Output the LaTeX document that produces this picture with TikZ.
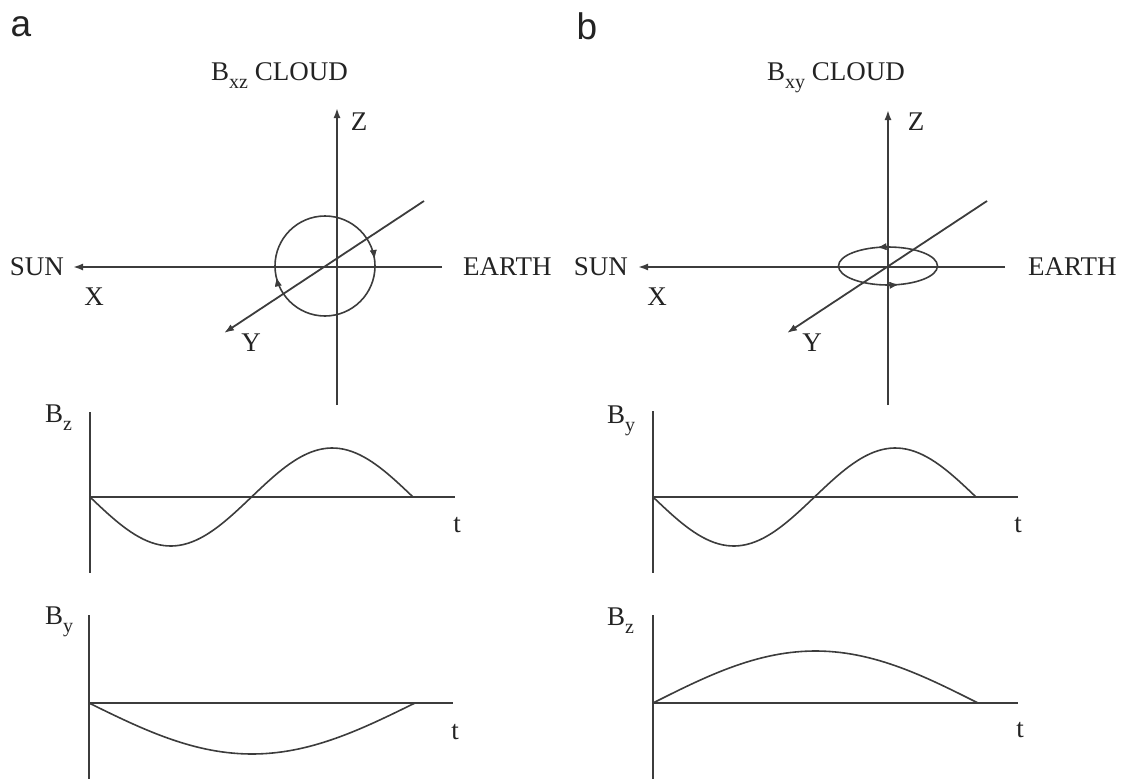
\documentclass[tikz,border=0pt]{standalone}
\usepackage{fontspec}
\setmainfont{Liberation Serif}
\newfontfamily\panelsans{Liberation Sans}
\usepackage{xcolor}
\definecolor{linegray}{RGB}{60,60,60}
\definecolor{inkgray}{RGB}{35,35,35}
\usetikzlibrary{arrows.meta,positioning,decorations.markings}
\newcommand{\lblfont}{\fontsize{27}{30}\selectfont}
\newcommand{\lowsub}[1]{\raisebox{-0.33em}{\fontsize{20}{20}\selectfont #1}}
\tikzset{
  axisline/.style={draw=linegray,line width=1.8pt},
  axisarrow/.style={axisline,-{Latex[length=10pt,width=7pt]}},
  curve/.style={draw=linegray,line width=1.6pt},
  lbl/.style={font=\lblfont,text=inkgray,inner sep=0pt},
  panel/.style={font=\panelsans\fontsize{37}{40}\selectfont,text=inkgray,inner sep=0pt},
  turn/.style={postaction={decorate},decoration={markings,%
    mark=at position #1 with {\arrow{Latex[length=9pt,width=7pt]}}}},
}

\begin{document}
\begin{tikzpicture}[x=1pt,y=-1pt,node distance=9pt]
\useasboundingbox (0,0) rectangle (1125,779);
% panel a: B_xz cloud
\node[panel] (pa) at (21,27) {a};
\node[lbl,anchor=base west] (ta) at (211,80) {B\lowsub{xz} CLOUD};
\coordinate (aZtop) at (337,108);
\coordinate (aZbot) at (337,405);
\coordinate (aXsun) at (73,267);
\coordinate (aXend) at (442,267);
\coordinate (aYup) at (424,201);
\coordinate (aYtip) at (224,333);
\coordinate (aC) at (325,266);
\draw[axisarrow] (aZbot) -- (aZtop);
\draw[axisarrow] (aXend) -- (aXsun);
\draw[axisarrow] (aYup) -- (aYtip);
\draw[curve,turn=0.464,postaction={decorate},decoration={markings,%
    mark=at position 0.978 with {\arrow{Latex[length=9pt,width=7pt]}}}]
  (aC) ++(50,0) arc[start angle=0,end angle=360,radius=50];
\node[lbl] (aZ) at (359,122) {Z};
\node[lbl,left=of aXsun] (asun) {SUN};
\node[lbl,right=21pt of aXend] (aearth) {EARTH};
\node[lbl] (aX) at (94,297) {X};
\node[lbl] (aY) at (251,343) {Y};
% panel b: B_xy cloud
\node[panel] (pb) at (587,26) {b};
\node[lbl,anchor=base west] (tb) at (767,80) {B\lowsub{xy} CLOUD};
\coordinate (bZtop) at (888,110);
\coordinate (bZbot) at (888,405);
\coordinate (bXsun) at (638,267);
\coordinate (bXend) at (1005,267);
\coordinate (bYup) at (987,201);
\coordinate (bYtip) at (787,333);
\coordinate (bC) at (888,266);
\draw[axisarrow] (bZbot) -- (bZtop);
\draw[axisarrow] (bXend) -- (bXsun);
\draw[axisarrow] (bYup) -- (bYtip);
\draw[curve,turn=0.297,postaction={decorate},decoration={markings,%
    mark=at position 0.797 with {\arrow{Latex[length=9pt,width=7pt]}}}]
  (bC) ++(49.5,0) arc[start angle=0,end angle=-360,x radius=49.5,y radius=19];
\node[lbl] (bZ) at (916,122) {Z};
\node[lbl,left=10pt of bXsun] (bsun) {SUN};
\node[lbl,right=23pt of bXend] (bearth) {EARTH};
\node[lbl] (bX) at (657,297) {X};
\node[lbl] (bY) at (812,343) {Y};
% time plots, panel a
\coordinate (a1top) at (90,412);
\coordinate (a1bot) at (90,573);
\coordinate (a1o) at (90,497);
\coordinate (a1end) at (455,497);
\draw[axisline] (a1top) -- (a1bot);
\draw[axisline] (a1o) -- (a1end);
\draw[curve] plot[domain=90:413,samples=80] (\x,{497+49*sin(1.114551*(\x-90))});
\node[lbl,anchor=base west] (a1B) at (45,422) {B\lowsub{z}};
\node[lbl] (a1t) at (457,525) {t};
\coordinate (a2top) at (89,615);
\coordinate (a2bot) at (89,779);
\coordinate (a2o) at (89,703);
\coordinate (a2end) at (453,703);
\draw[axisline] (a2top) -- (a2bot);
\draw[axisline] (a2o) -- (a2end);
\draw[curve] plot[domain=89:415,samples=60] (\x,{703+51*sin(0.552147*(\x-89))});
\node[lbl,anchor=base west] (a2B) at (45,624) {B\lowsub{y}};
\node[lbl] (a2t) at (455,732) {t};
% time plots, panel b
\coordinate (b1top) at (653,411);
\coordinate (b1bot) at (653,573);
\coordinate (b1o) at (653,497);
\coordinate (b1end) at (1018,497);
\draw[axisline] (b1top) -- (b1bot);
\draw[axisline] (b1o) -- (b1end);
\draw[curve] plot[domain=653:976,samples=80] (\x,{497+49*sin(1.114551*(\x-653))});
\node[lbl,anchor=base west] (b1B) at (607,423) {B\lowsub{y}};
\node[lbl] (b1t) at (1018,525) {t};
\coordinate (b2top) at (653,615);
\coordinate (b2bot) at (653,779);
\coordinate (b2o) at (653,703);
\coordinate (b2end) at (1018,703);
\draw[axisline] (b2top) -- (b2bot);
\draw[axisline] (b2o) -- (b2end);
\draw[curve] plot[domain=653:978,samples=60] (\x,{703-52*sin(0.553846*(\x-653))});
\node[lbl,anchor=base west] (b2B) at (607,625) {B\lowsub{z}};
\node[lbl] (b2t) at (1020,730) {t};
\end{tikzpicture}
\end{document}
